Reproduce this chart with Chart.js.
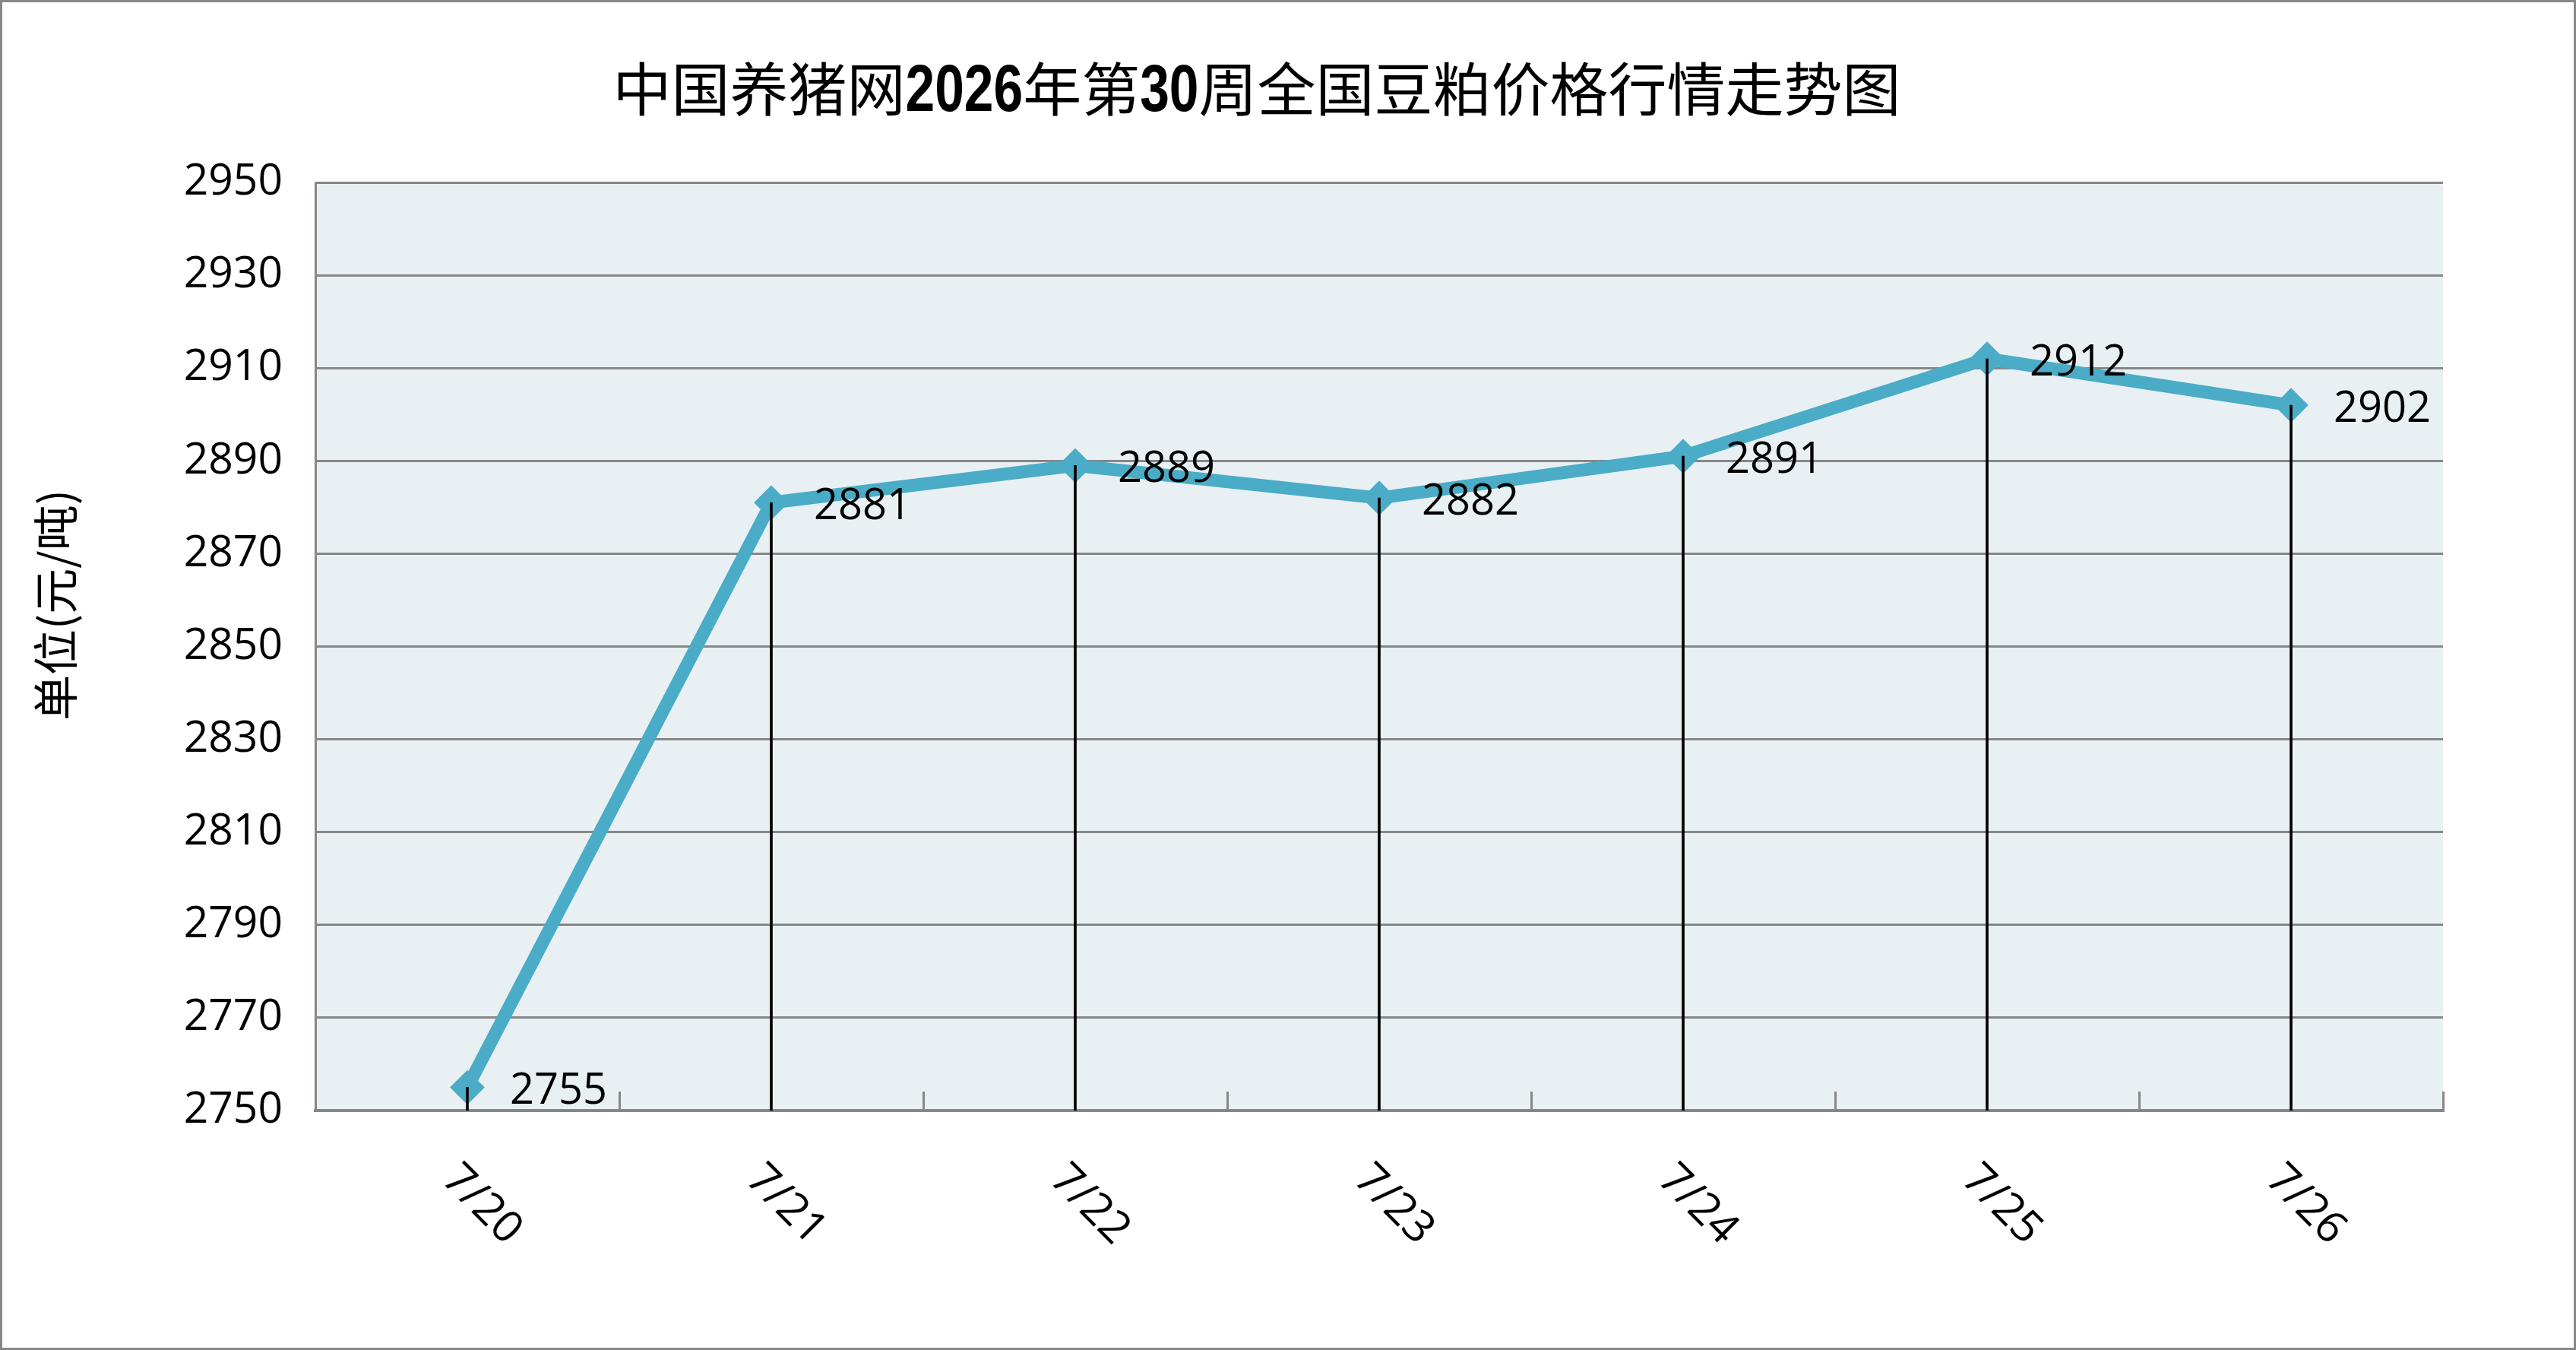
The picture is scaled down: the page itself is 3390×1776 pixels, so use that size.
<!DOCTYPE html>
<html>
<head>
<meta charset="utf-8">
<script src="https://cdn.jsdelivr.net/npm/chart.js@4"></script>
<style>
  html, body { margin: 0; padding: 0; background: #fff; }
  canvas { display: block; }
</style>
</head>
<body>
<canvas id="chartContainer" width="3390" height="1776"></canvas>
<script>
const days = ['7/20', '7/21', '7/22', '7/23', '7/24', '7/25', '7/26'];
const prices = [2755, 2881, 2889, 2882, 2891, 2912, 2902];
const yMin = 2750;
const yMax = 2950;
const yStep = 20;
const chartTitle = '中国养猪网2026年第30周全国豆粕价格行情走势图';
const yTitle = '单位(元/吨)';

const numFont = "'Open Sans', 'DejaVu Sans', sans-serif";
const cjkFont = "'Noto Sans CJK SC', sans-serif";
const boldNumFont = "'Liberation Sans', Arial, sans-serif";
const lineColor = '#4AACC6';
const gridColor = '#878787';

// white page, grey frame and the pale plot background
const frame = {
    id: 'frame',
    beforeDraw(chart) {
        const {ctx, chartArea: a, width, height} = chart;
        ctx.save();
        ctx.fillStyle = '#fff';
        ctx.fillRect(0, 0, width, height);
        ctx.fillStyle = '#E8F0F4';
        ctx.fillRect(a.left, a.top, a.right - a.left, a.bottom - a.top);
        ctx.strokeStyle = gridColor;
        ctx.lineWidth = 3;
        ctx.strokeRect(1.5, 1.5, width - 3, height - 3);
        ctx.restore();
    }
};

// title with bold digits, y title, slanted day labels and value labels
const texts = {
    id: 'texts',
    afterDraw(chart) {
        const {ctx} = chart;
        const xScale = chart.scales.x;
        ctx.save();
        ctx.fillStyle = '#000';
        ctx.textBaseline = 'alphabetic';

        // title: digits narrowed for a condensed bold look, whole line fitted to 1695px
        const runs = chartTitle.split(/(\d+)/).filter(Boolean);
        const isNum = runs.map(r => /\d/.test(r));
        const fonts = runs.map((r, i) => isNum[i] ? 'bold 88px ' + boldNumFont : '76px ' + cjkFont);
        const squeeze = runs.map((r, i) => isNum[i] ? 0.78 : 1);
        const widths = runs.map((r, i) => {
            ctx.font = fonts[i];
            return ctx.measureText(r).width * squeeze[i];
        });
        const total = widths.reduce((s, w) => s + w, 0);
        const fit = Math.min(1.15, Math.max(0.85, 1695 / total));
        let x = 1654 - total * fit / 2;
        ctx.textAlign = 'left';
        runs.forEach((r, i) => {
            ctx.save();
            ctx.translate(x, 146);
            ctx.scale(squeeze[i] * fit, 1);
            ctx.font = fonts[i];
            ctx.fillText(r, 0, 0);
            ctx.restore();
            x += widths[i] * fit;
        });

        // y axis title
        ctx.save();
        ctx.translate(73, 796);
        ctx.rotate(-Math.PI / 2);
        ctx.font = '60px ' + cjkFont;
        ctx.textAlign = 'center';
        ctx.fillText(yTitle, 0, 0.38 * 60);
        ctx.restore();

        // day labels, turned 45 degrees
        ctx.font = '58px ' + numFont;
        ctx.textAlign = 'center';
        days.forEach((d, i) => {
            ctx.save();
            ctx.translate(xScale.getPixelForValue(i) + 22, 1582);
            ctx.rotate(Math.PI / 4);
            ctx.fillText(d, 0, 0.357 * 58);
            ctx.restore();
        });

        // value labels right of each point
        const meta = chart.getDatasetMeta(1);
        ctx.font = '56px ' + numFont;
        ctx.textAlign = 'left';
        meta.data.forEach((pt, i) => {
            ctx.fillText(String(prices[i]), pt.x + 56, pt.y + 2 + 0.357 * 56);
        });
        ctx.restore();
    }
};

const ctx_one = document.getElementById('chartContainer').getContext('2d');

let chart_one = new Chart(ctx_one, {
    type: 'line',
    data: {
        labels: days,
        datasets: [{
            // drop lines from each point to the axis
            type: 'bar',
            data: prices.map(p => [yMin, p]),
            backgroundColor: '#000',
            barThickness: 3,
            order: 0
        }, {
            type: 'line',
            data: prices,
            borderColor: lineColor,
            borderWidth: 17,
            borderJoinStyle: 'round',
            tension: 0,
            pointStyle: 'rectRot',
            pointRadius: 20,
            pointBorderWidth: 4,
            pointBackgroundColor: lineColor,
            pointBorderColor: lineColor,
            order: 1
        }]
    },
    options: {
        responsive: false,
        animation: false,
        layout: {
            padding: {left: 0, right: 175, top: 240, bottom: 0}
        },
        plugins: {
            legend: {display: false},
            title: {display: false},
            tooltip: {enabled: false}
        },
        scales: {
            x: {
                offset: true,
                grid: {
                    offset: true,
                    drawOnChartArea: false,
                    drawTicks: true,
                    tickLength: -25,
                    tickColor: gridColor,
                    tickWidth: 3
                },
                border: {color: gridColor, width: 4},
                ticks: {display: false},
                afterFit: s => { s.height = 315; }
            },
            y: {
                min: yMin,
                max: yMax,
                ticks: {
                    stepSize: yStep,
                    padding: 43,
                    color: '#000',
                    font: {family: numFont, size: 57},
                    callback: v => String(v)
                },
                grid: {color: gridColor, lineWidth: 3, drawTicks: false},
                border: {color: gridColor, width: 3},
                afterFit: s => { s.width = 415; }
            }
        }
    },
    plugins: [frame, texts]
});
</script>
</body>
</html>
